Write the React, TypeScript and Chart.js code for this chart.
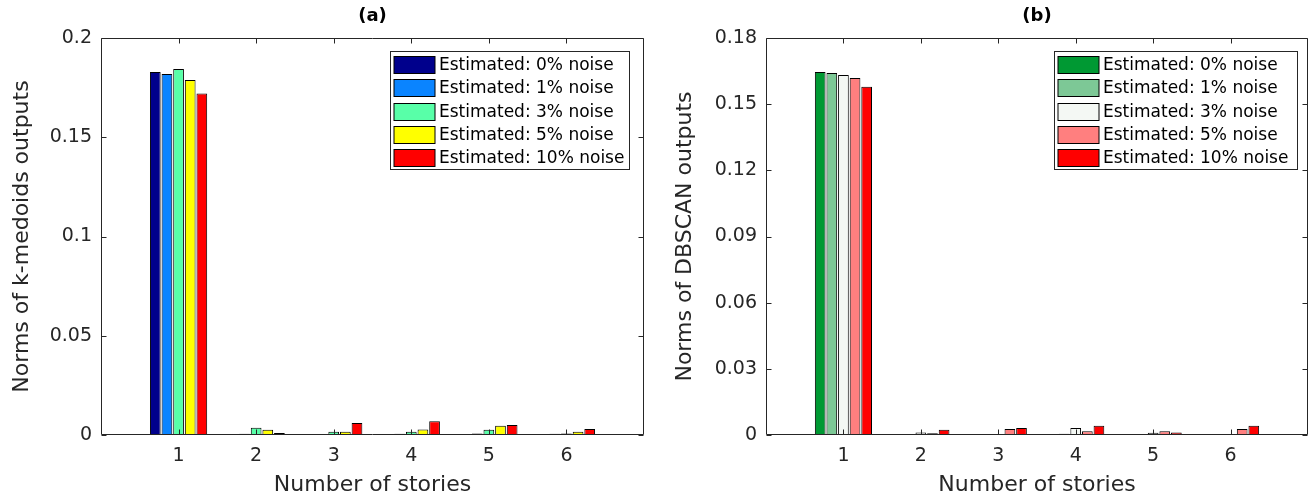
import React, { useEffect, useRef } from "react";
import { Chart, registerables } from "chart.js";

Chart.register(...registerables);

// ---------- data ----------
const stories = [1, 2, 3, 4, 5, 6];
const xTicks = [1, 2, 3, 4, 5, 6];
const noiseLabels = [
  "Estimated: 0% noise",
  "Estimated: 1% noise",
  "Estimated: 3% noise",
  "Estimated: 5% noise",
  "Estimated: 10% noise",
];

// (a) k-medoids
const kmedNoise0 = [0.1829, 0.0002, 0.0001, 0.0001, 0.0001, 0.0002];
const kmedNoise1 = [0.1819, 0.0006, 0.0003, 0.0006, 0.0007, 0.0006];
const kmedNoise3 = [0.1844, 0.0037, 0.0017, 0.0016, 0.0027, 0.0007];
const kmedNoise5 = [0.1788, 0.0027, 0.0017, 0.0028, 0.0047, 0.0016];
const kmedNoise10 = [0.172, 0.001, 0.006, 0.0069, 0.0051, 0.003];
const yTicksA = [0, 0.05, 0.1, 0.15, 0.2];
const coloursA = ["#00008C", "#0A84FF", "#58FFA8", "#FFFF00", "#FF0000"];

// (b) DBSCAN
const dbsNoise0 = [0.1646, 0.0001, 0.0001, 0.0001, 0.0001, 0.0001];
const dbsNoise1 = [0.1641, 0.0005, 0.0005, 0.0006, 0.0005, 0.0005];
const dbsNoise3 = [0.1632, 0.0011, 0.0002, 0.0032, 0.001, 0.0002];
const dbsNoise5 = [0.1619, 0.0008, 0.0027, 0.0017, 0.0017, 0.0027];
const dbsNoise10 = [0.1579, 0.0024, 0.0032, 0.0042, 0.0011, 0.0042];
const yTicksB = [0, 0.03, 0.06, 0.09, 0.12, 0.15, 0.18];
const coloursB = ["#009933", "#7DC896", "#F4F8F4", "#FF7F7F", "#FF0000"];

// ---------- styling ----------
const FONT = "'DejaVu Sans', 'Liberation Sans', sans-serif";
const AXIS = "#262626";

const matlabPlugin = {
  id: "matlabAxes",
  afterDraw(chart: any, _args: any, opts: any) {
    const { ctx, chartArea: a } = chart;
    const xs = chart.scales.x;
    const ys = chart.scales.y;
    ctx.save();
    ctx.strokeStyle = AXIS;
    ctx.lineWidth = 1;
    const L = Math.round(a.left) + 0.5;
    const R = Math.round(a.right) - 0.5;
    const T = Math.round(a.top) + 0.5;
    const B = Math.round(a.bottom) - 0.5;
    ctx.beginPath();
    ctx.rect(L, T, R - L, B - T);
    const tl = 5;
    xs.ticks.forEach((t: any) => {
      const px = Math.round(xs.getPixelForValue(t.value)) + 0.5;
      ctx.moveTo(px, B);
      ctx.lineTo(px, B - tl);
      ctx.moveTo(px, T);
      ctx.lineTo(px, T + tl);
    });
    ys.ticks.forEach((t: any) => {
      const py = Math.round(ys.getPixelForValue(t.value)) + 0.5;
      ctx.moveTo(L, py);
      ctx.lineTo(L + tl, py);
      ctx.moveTo(R, py);
      ctx.lineTo(R - tl, py);
    });
    ctx.stroke();

    // title
    ctx.fillStyle = "#000";
    ctx.font = `bold 18px ${FONT}`;
    ctx.textAlign = "center";
    ctx.textBaseline = "middle";
    ctx.fillText(opts.title, (a.left + a.right) / 2, 16);

    // legend
    const lx = Math.round(a.left + opts.legendLeft) + 0.5;
    const ly = Math.round(a.top + 13) + 0.5;
    const rowH = 23.3;
    const lw = opts.legendWidth;
    const lh = Math.round(rowH * opts.labels.length + 1);
    ctx.fillStyle = "#fff";
    ctx.fillRect(lx, ly, lw, lh);
    ctx.strokeStyle = AXIS;
    ctx.strokeRect(lx, ly, lw, lh);
    ctx.font = `17px ${FONT}`;
    ctx.textAlign = "left";
    opts.labels.forEach((lab: string, i: number) => {
      const cy = ly + 13 + rowH * i;
      const px = lx + 3.5;
      const py = Math.round(cy - 8.5) + 0.5;
      ctx.fillStyle = opts.colours[i];
      ctx.fillRect(px, py, 41, 17);
      ctx.strokeStyle = "#000";
      ctx.strokeRect(px, py, 41, 17);
      ctx.fillStyle = "#000";
      ctx.fillText(lab, px + 45, cy + 1);
    });
    ctx.restore();
  },
};

type Panel = {
  title: string;
  yTitle: string;
  series: number[][];
  colours: string[];
  yTicks: number[];
  yAxisWidth: number;
  padRight: number;
  yTitlePad: number;
  legendLeft: number;
  legendWidth: number;
};

function BarPanel({ p }: { p: Panel }) {
  const ref = useRef<HTMLCanvasElement | null>(null);
  useEffect(() => {
    if (!ref.current) return;
    const chart = new Chart(ref.current, {
      type: "bar",
      data: {
        datasets: p.series.map((vals, i) => ({
          label: noiseLabels[i],
          data: vals.map((v, j) => ({ x: stories[j], y: v })),
          backgroundColor: p.colours[i],
          borderColor: "#000",
          borderWidth: 1,
          categoryPercentage: 0.75,
          barPercentage: 0.92,
        })),
      },
      options: {
        responsive: false,
        animation: false,
        devicePixelRatio: 1,
        layout: { padding: { left: 0, top: 38, right: p.padRight, bottom: 0 } },
        plugins: {
          legend: { display: false },
          tooltip: { enabled: false },
          matlabAxes: {
            title: p.title,
            labels: noiseLabels,
            colours: p.colours,
            legendLeft: p.legendLeft,
            legendWidth: p.legendWidth,
          },
        } as any,
        scales: {
          x: {
            type: "linear",
            min: 0,
            max: 7,
            offset: false,
            grid: { display: false, drawTicks: false },
            border: { display: false },
            afterBuildTicks: (s: any) => {
              s.ticks = xTicks.map((v) => ({ value: v }));
            },
            afterFit: (s: any) => {
              s.height = 63;
            },
            ticks: {
              padding: 10,
              color: AXIS,
              font: { family: FONT, size: 19 },
              autoSkip: false,
              maxRotation: 0,
              callback: (v: any) => String(v),
            },
            title: {
              display: true,
              text: "Number of stories",
              color: AXIS,
              font: { family: FONT, size: 22 },
              padding: { top: 0, bottom: 0 },
            },
          },
          y: {
            type: "linear",
            min: 0,
            max: p.yTicks[p.yTicks.length - 1],
            grid: { display: false, drawTicks: false },
            border: { display: false },
            afterBuildTicks: (s: any) => {
              s.ticks = p.yTicks.map((v) => ({ value: v }));
            },
            afterFit: (s: any) => {
              s.width = p.yAxisWidth;
            },
            ticks: {
              padding: 9,
              color: AXIS,
              font: { family: FONT, size: 19 },
              callback: (v: any) => String(v),
            },
            title: {
              display: true,
              text: p.yTitle,
              color: AXIS,
              font: { family: FONT, size: 22 },
              padding: { top: p.yTitlePad, bottom: 0 },
            },
          },
        },
      } as any,
      plugins: [matlabPlugin as any],
    });
    return () => chart.destroy();
  }, [p]);
  return <canvas ref={ref} width={656} height={498} style={{ display: "block" }} />;
}

const panelA: Panel = {
  title: "(a)",
  yTitle: "Norms of k-medoids outputs",
  series: [kmedNoise0, kmedNoise1, kmedNoise3, kmedNoise5, kmedNoise10],
  colours: coloursA,
  yTicks: yTicksA,
  yAxisWidth: 101,
  padRight: 12,
  yTitlePad: 9,
  legendLeft: 289,
  legendWidth: 239,
};

const panelB: Panel = {
  title: "(b)",
  yTitle: "Norms of DBSCAN outputs",
  series: [dbsNoise0, dbsNoise1, dbsNoise3, dbsNoise5, dbsNoise10],
  colours: coloursB,
  yTicks: yTicksB,
  yAxisWidth: 110,
  padRight: 4,
  yTitlePad: 16,
  legendLeft: 288,
  legendWidth: 243,
};

export default function App() {
  return (
    <div
      style={{
        position: "absolute",
        left: 0,
        top: 0,
        width: 1312,
        height: 498,
        background: "#fff",
      }}
    >
      <div style={{ position: "absolute", left: 0, top: 0 }}>
        <BarPanel p={panelA} />
      </div>
      <div style={{ position: "absolute", left: 656, top: 0 }}>
        <BarPanel p={panelB} />
      </div>
    </div>
  );
}
